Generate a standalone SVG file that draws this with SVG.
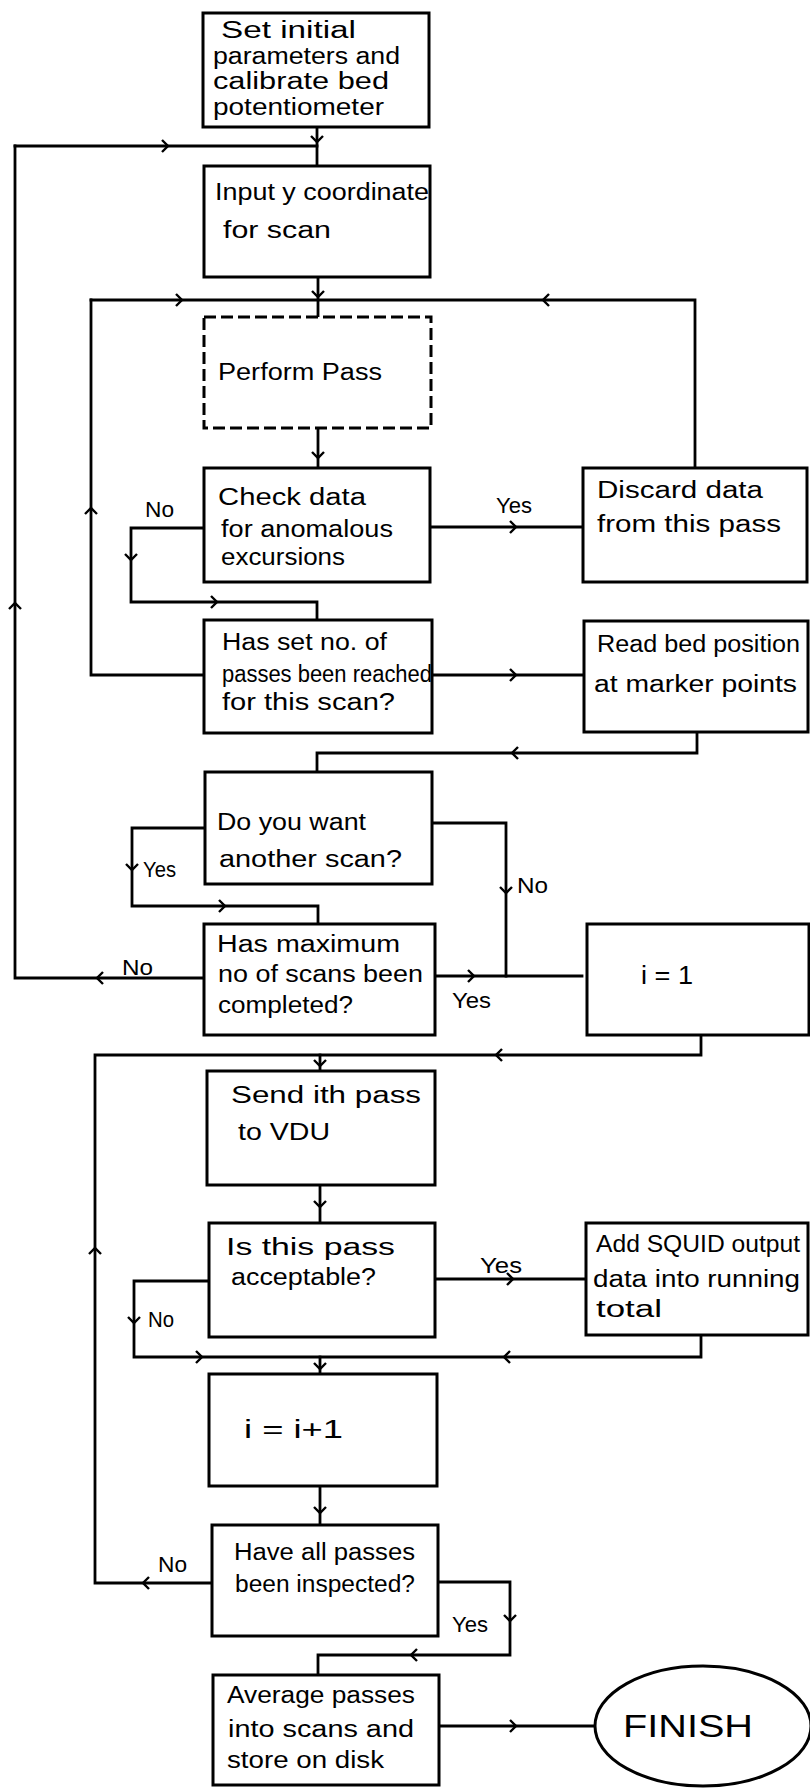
<svg xmlns="http://www.w3.org/2000/svg" xmlns:xlink="http://www.w3.org/1999/xlink" width="810" height="1788" viewBox="0 0 810 1788">
<style>
.box{fill:#fff;stroke:#000;stroke-width:3}
.dash{fill:#fff;stroke:#000;stroke-width:3;stroke-dasharray:12 5}
.ln{fill:none;stroke:#000;stroke-width:2.8;stroke-linejoin:miter;stroke-linecap:square}
.t{font-family:"Liberation Sans",Arial,sans-serif;font-size:23px;fill:#000}
.big{font-family:"Liberation Sans",Arial,sans-serif;font-size:26px;fill:#000}
.lb{font-family:"Liberation Sans",Arial,sans-serif;font-size:22px;fill:#000}
</style>
<defs>
<path id="chev" d="M-6,-6 L0,0 L-6,6" fill="none" stroke="#000" stroke-width="2.4"/>
</defs>
<rect width="810" height="1788" fill="#fff"/>

<g id="connectors">
<path class="ln" d="M317,127 V166"/>
<path class="ln" d="M15,146 H317"/>
<path class="ln" d="M15,146 V978 H204"/>
<path class="ln" d="M318,277 V317"/>
<path class="ln" d="M91,300 H695 V468"/>
<path class="ln" d="M91,300 V675 H204"/>
<path class="ln" d="M318,428 V468"/>
<path class="ln" d="M430,527 H583"/>
<path class="ln" d="M204,528 H131 V602 H317 V620"/>
<path class="ln" d="M432,675 H584"/>
<path class="ln" d="M697,732 V753 H317 V772"/>
<path class="ln" d="M205,828 H132 V906 H318 V924"/>
<path class="ln" d="M432,823 H506 V976"/>
<path class="ln" d="M435,976 H582"/>
<path class="ln" d="M701,1035 V1055 H95 V1583 H212"/>
<path class="ln" d="M320,1055 V1071"/>
<path class="ln" d="M320,1185 V1223"/>
<path class="ln" d="M435,1279 H584"/>
<path class="ln" d="M209,1281 H134 V1357 H701 V1335"/>
<path class="ln" d="M320,1357 V1374"/>
<path class="ln" d="M320,1486 V1525"/>
<path class="ln" d="M438,1582 H510 V1655 H318 V1675"/>
<path class="ln" d="M439,1726 H594"/>

<use xlink:href="#chev" transform="translate(317,142) rotate(90)"/>
<use xlink:href="#chev" transform="translate(168,146)"/>
<use xlink:href="#chev" transform="translate(15,603) rotate(-90)"/>
<use xlink:href="#chev" transform="translate(97,978) rotate(180)"/>
<use xlink:href="#chev" transform="translate(318,297) rotate(90)"/>
<use xlink:href="#chev" transform="translate(182,300)"/>
<use xlink:href="#chev" transform="translate(543,300) rotate(180)"/>
<use xlink:href="#chev" transform="translate(91,508) rotate(-90)"/>
<use xlink:href="#chev" transform="translate(318,458) rotate(90)"/>
<use xlink:href="#chev" transform="translate(516,527)"/>
<use xlink:href="#chev" transform="translate(131,560) rotate(90)"/>
<use xlink:href="#chev" transform="translate(217,602)"/>
<use xlink:href="#chev" transform="translate(516,675)"/>
<use xlink:href="#chev" transform="translate(512,753) rotate(180)"/>
<use xlink:href="#chev" transform="translate(132,870) rotate(90)"/>
<use xlink:href="#chev" transform="translate(225,906)"/>
<use xlink:href="#chev" transform="translate(506,893) rotate(90)"/>
<use xlink:href="#chev" transform="translate(474,976)"/>
<use xlink:href="#chev" transform="translate(496,1055) rotate(180)"/>
<use xlink:href="#chev" transform="translate(320,1066) rotate(90)"/>
<use xlink:href="#chev" transform="translate(95,1248) rotate(-90)"/>
<use xlink:href="#chev" transform="translate(320,1207) rotate(90)"/>
<use xlink:href="#chev" transform="translate(513,1279)"/>
<use xlink:href="#chev" transform="translate(134,1323) rotate(90)"/>
<use xlink:href="#chev" transform="translate(202,1357)"/>
<use xlink:href="#chev" transform="translate(504,1357) rotate(180)"/>
<use xlink:href="#chev" transform="translate(320,1369) rotate(90)"/>
<use xlink:href="#chev" transform="translate(320,1513) rotate(90)"/>
<use xlink:href="#chev" transform="translate(143,1583) rotate(180)"/>
<use xlink:href="#chev" transform="translate(510,1621) rotate(90)"/>
<use xlink:href="#chev" transform="translate(411,1655) rotate(180)"/>
<use xlink:href="#chev" transform="translate(516,1726)"/>

<text class="lb" x="496" y="513" textLength="36" lengthAdjust="spacingAndGlyphs">Yes</text>
<text class="lb" x="145" y="517" textLength="29" lengthAdjust="spacingAndGlyphs">No</text>
<text class="lb" x="143" y="877" textLength="33" lengthAdjust="spacingAndGlyphs">Yes</text>
<text class="lb" x="517" y="893" textLength="31" lengthAdjust="spacingAndGlyphs">No</text>
<text class="lb" x="122" y="975" textLength="31" lengthAdjust="spacingAndGlyphs">No</text>
<text class="lb" x="452" y="1008" textLength="39" lengthAdjust="spacingAndGlyphs">Yes</text>
<text class="lb" x="480" y="1273" textLength="42" lengthAdjust="spacingAndGlyphs">Yes</text>
<text class="lb" x="148" y="1327" textLength="26" lengthAdjust="spacingAndGlyphs">No</text>
<text class="lb" x="158" y="1572" textLength="29" lengthAdjust="spacingAndGlyphs">No</text>
<text class="lb" x="452" y="1632" textLength="36" lengthAdjust="spacingAndGlyphs">Yes</text>
</g>

<g id="n1">
<rect class="box" x="203" y="13" width="226" height="114"/>
<text class="t" x="221" y="38" textLength="135" lengthAdjust="spacingAndGlyphs">Set initial</text>
<text class="t" x="213" y="64" textLength="187" lengthAdjust="spacingAndGlyphs">parameters and</text>
<text class="t" x="213" y="89" textLength="176" lengthAdjust="spacingAndGlyphs">calibrate bed</text>
<text class="t" x="213" y="115" textLength="171" lengthAdjust="spacingAndGlyphs">potentiometer</text>
</g>

<g id="n2">
<rect class="box" x="204" y="166" width="226" height="111"/>
<text class="t" x="215" y="200" textLength="214" lengthAdjust="spacingAndGlyphs">Input y coordinate</text>
<text class="t" x="223" y="238" textLength="108" lengthAdjust="spacingAndGlyphs">for scan</text>
</g>

<g id="n3">
<rect class="dash" x="204" y="317" width="227" height="111"/>
<text class="t" x="218" y="380" textLength="164" lengthAdjust="spacingAndGlyphs">Perform Pass</text>
</g>

<g id="n4">
<rect class="box" x="204" y="468" width="226" height="114"/>
<text class="t" x="218" y="505" textLength="148" lengthAdjust="spacingAndGlyphs">Check data</text>
<text class="t" x="221" y="537" textLength="172" lengthAdjust="spacingAndGlyphs">for anomalous</text>
<text class="t" x="221" y="565" textLength="124" lengthAdjust="spacingAndGlyphs">excursions</text>
</g>

<g id="n5">
<rect class="box" x="583" y="468" width="224" height="114"/>
<text class="t" x="597" y="498" textLength="166" lengthAdjust="spacingAndGlyphs">Discard data</text>
<text class="t" x="597" y="532" textLength="184" lengthAdjust="spacingAndGlyphs">from this pass</text>
</g>

<g id="n6">
<rect class="box" x="204" y="620" width="228" height="113"/>
<text class="t" x="222" y="650" textLength="165" lengthAdjust="spacingAndGlyphs">Has set no. of</text>
<text class="t" x="222" y="682" textLength="210" lengthAdjust="spacingAndGlyphs">passes been reached</text>
<text class="t" x="222" y="710" textLength="173" lengthAdjust="spacingAndGlyphs">for this scan?</text>
</g>

<g id="n7">
<rect class="box" x="584" y="621" width="224" height="111"/>
<text class="t" x="597" y="652" textLength="203" lengthAdjust="spacingAndGlyphs">Read bed position</text>
<text class="t" x="594" y="692" textLength="203" lengthAdjust="spacingAndGlyphs">at marker points</text>
</g>

<g id="n8">
<rect class="box" x="205" y="772" width="227" height="112"/>
<text class="t" x="217" y="830" textLength="149" lengthAdjust="spacingAndGlyphs">Do you want</text>
<text class="t" x="219" y="867" textLength="183" lengthAdjust="spacingAndGlyphs">another scan?</text>
</g>

<g id="n9">
<rect class="box" x="204" y="924" width="231" height="111"/>
<text class="t" x="217" y="952" textLength="183" lengthAdjust="spacingAndGlyphs">Has maximum</text>
<text class="t" x="218" y="982" textLength="205" lengthAdjust="spacingAndGlyphs">no of scans been</text>
<text class="t" x="218" y="1013" textLength="135" lengthAdjust="spacingAndGlyphs">completed?</text>
</g>

<g id="n10">
<rect class="box" x="587" y="924" width="222" height="111"/>
<text class="big" x="641" y="984" textLength="52" lengthAdjust="spacingAndGlyphs">i = 1</text>
</g>

<g id="n11">
<rect class="box" x="207" y="1071" width="228" height="114"/>
<text class="t" x="231" y="1103" textLength="190" lengthAdjust="spacingAndGlyphs">Send ith pass</text>
<text class="t" x="238" y="1140" textLength="92" lengthAdjust="spacingAndGlyphs">to VDU</text>
</g>

<g id="n12">
<rect class="box" x="209" y="1223" width="226" height="114"/>
<text class="t" x="226" y="1255" textLength="169" lengthAdjust="spacingAndGlyphs">Is this pass</text>
<text class="t" x="231" y="1285" textLength="145" lengthAdjust="spacingAndGlyphs">acceptable?</text>
</g>

<g id="n13">
<rect class="box" x="586" y="1223" width="222" height="112"/>
<text class="t" x="596" y="1252" textLength="204" lengthAdjust="spacingAndGlyphs">Add SQUID output</text>
<text class="t" x="593" y="1287" textLength="207" lengthAdjust="spacingAndGlyphs">data into running</text>
<text class="t" x="596" y="1317" textLength="66" lengthAdjust="spacingAndGlyphs">total</text>
</g>

<g id="n14">
<rect class="box" x="209" y="1374" width="228" height="112"/>
<text class="big" x="244" y="1438" textLength="99" lengthAdjust="spacingAndGlyphs">i = i+1</text>
</g>

<g id="n15">
<rect class="box" x="212" y="1525" width="226" height="111"/>
<text class="t" x="234" y="1560" textLength="181" lengthAdjust="spacingAndGlyphs">Have all passes</text>
<text class="t" x="235" y="1592" textLength="180" lengthAdjust="spacingAndGlyphs">been inspected?</text>
</g>

<g id="n16">
<rect class="box" x="213" y="1675" width="226" height="110"/>
<text class="t" x="227" y="1703" textLength="188" lengthAdjust="spacingAndGlyphs">Average passes</text>
<text class="t" x="228" y="1737" textLength="186" lengthAdjust="spacingAndGlyphs">into scans and</text>
<text class="t" x="227" y="1768" textLength="157" lengthAdjust="spacingAndGlyphs">store on disk</text>
</g>

<g id="n17">
<ellipse cx="703" cy="1726" rx="108" ry="60" fill="#fff" stroke="#000" stroke-width="3"/>
<text x="688" y="1737" text-anchor="middle" font-family="Liberation Sans, Arial, sans-serif" font-size="31" textLength="130" lengthAdjust="spacingAndGlyphs">FINISH</text>
</g>
</svg>
